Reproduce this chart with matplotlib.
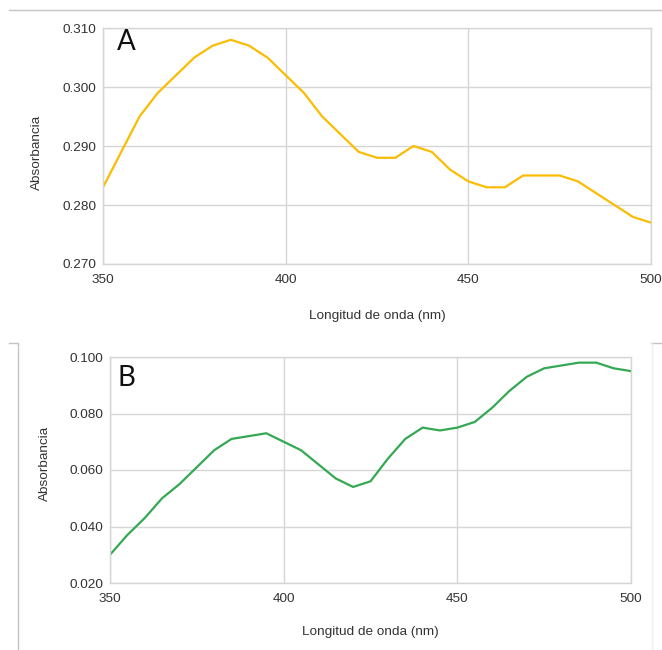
import matplotlib
matplotlib.use("Agg")
import matplotlib.pyplot as plt
from matplotlib.lines import Line2D

plt.rcParams['font.family'] = ['Liberation Sans', 'DejaVu Sans']

# longitudes de onda (nm)
wl = list(range(350, 505, 5))

abs_a = [0.283, 0.289, 0.295, 0.299, 0.302, 0.305, 0.307, 0.308, 0.307, 0.305,
         0.302, 0.299, 0.295, 0.292, 0.289, 0.288, 0.288, 0.290, 0.289, 0.286,
         0.284, 0.283, 0.283, 0.285, 0.285, 0.285, 0.284, 0.282, 0.280, 0.278,
         0.277]

abs_b = [0.030, 0.037, 0.043, 0.050, 0.055, 0.061, 0.067, 0.071, 0.072, 0.073,
         0.070, 0.067, 0.062, 0.057, 0.054, 0.056, 0.064, 0.071, 0.075, 0.074,
         0.075, 0.077, 0.082, 0.088, 0.093, 0.096, 0.097, 0.098, 0.098, 0.096,
         0.095]

xticks = [350, 400, 450, 500]
yticks_a = [0.270, 0.280, 0.290, 0.300, 0.310]
yticks_b = [0.020, 0.040, 0.060, 0.080, 0.100]

W, H = 662, 650
fig = plt.figure(figsize=(W / 100, H / 100), dpi=100)

txt = '#333333'
grid = '#d6d6d6'
fs = 9.7


def panel(rect, y, color, yticks, letter, letter_pos):
    l, t, r, b = rect
    ax = fig.add_axes([l / W, 1 - b / H, (r - l) / W, (b - t) / H])
    ax.plot(wl, y, color=color, lw=1.6, solid_joinstyle='miter')
    ax.set_xlim(350, 500)
    ax.set_ylim(yticks[0], yticks[-1])
    ax.set_xticks(xticks)
    ax.set_yticks(yticks)
    ax.set_yticklabels([f"{v:.3f}" for v in yticks])
    ax.grid(True, color=grid, lw=1)
    ax.set_axisbelow(True)
    for s in ax.spines.values():
        s.set_color(grid)
        s.set_linewidth(1)
    ax.tick_params(length=0, labelsize=fs, labelcolor=txt)
    ax.tick_params(axis='x', pad=7)
    ax.tick_params(axis='y', pad=5)
    ax.text(letter_pos[0], letter_pos[1], letter, transform=ax.transAxes,
            fontsize=20, family=['Lato', 'DejaVu Sans'], color='#111111',
            va='baseline', ha='left')
    return ax


panel((103, 28, 651, 264), abs_a, '#fbbc04', yticks_a, 'A', (0.026, 0.905))
panel((110, 357, 631, 583), abs_b, '#34a853', yticks_b, 'B', (0.015, 0.873))

fig.text(377 / W, 1 - 316 / H, 'Longitud de onda (nm)', fontsize=fs,
         color=txt, ha='center', va='center')
fig.text(37 / W, 1 - 152 / H, 'Absorbancia', fontsize=fs, color=txt,
         ha='center', va='center', rotation=90)
fig.text(370 / W, 1 - 632 / H, 'Longitud de onda (nm)', fontsize=fs,
         color=txt, ha='center', va='center')
fig.text(45 / W, 1 - 463 / H, 'Absorbancia', fontsize=fs, color=txt,
         ha='center', va='center', rotation=90)

# bordes de recorte
edge = '#c4c4c4'
def fline(xs, ys, c=edge):
    fig.add_artist(Line2D([x / W for x in xs], [1 - y / H for y in ys],
                          color=c, lw=1, transform=fig.transFigure))

fline([9, 662], [10, 10])
fline([9, 18, 18], [343, 343, 650])
fline([651, 662], [343, 343])
fline([652, 652], [343, 650], '#efefef')

fig.savefig('out.png', dpi=100, facecolor='white')
